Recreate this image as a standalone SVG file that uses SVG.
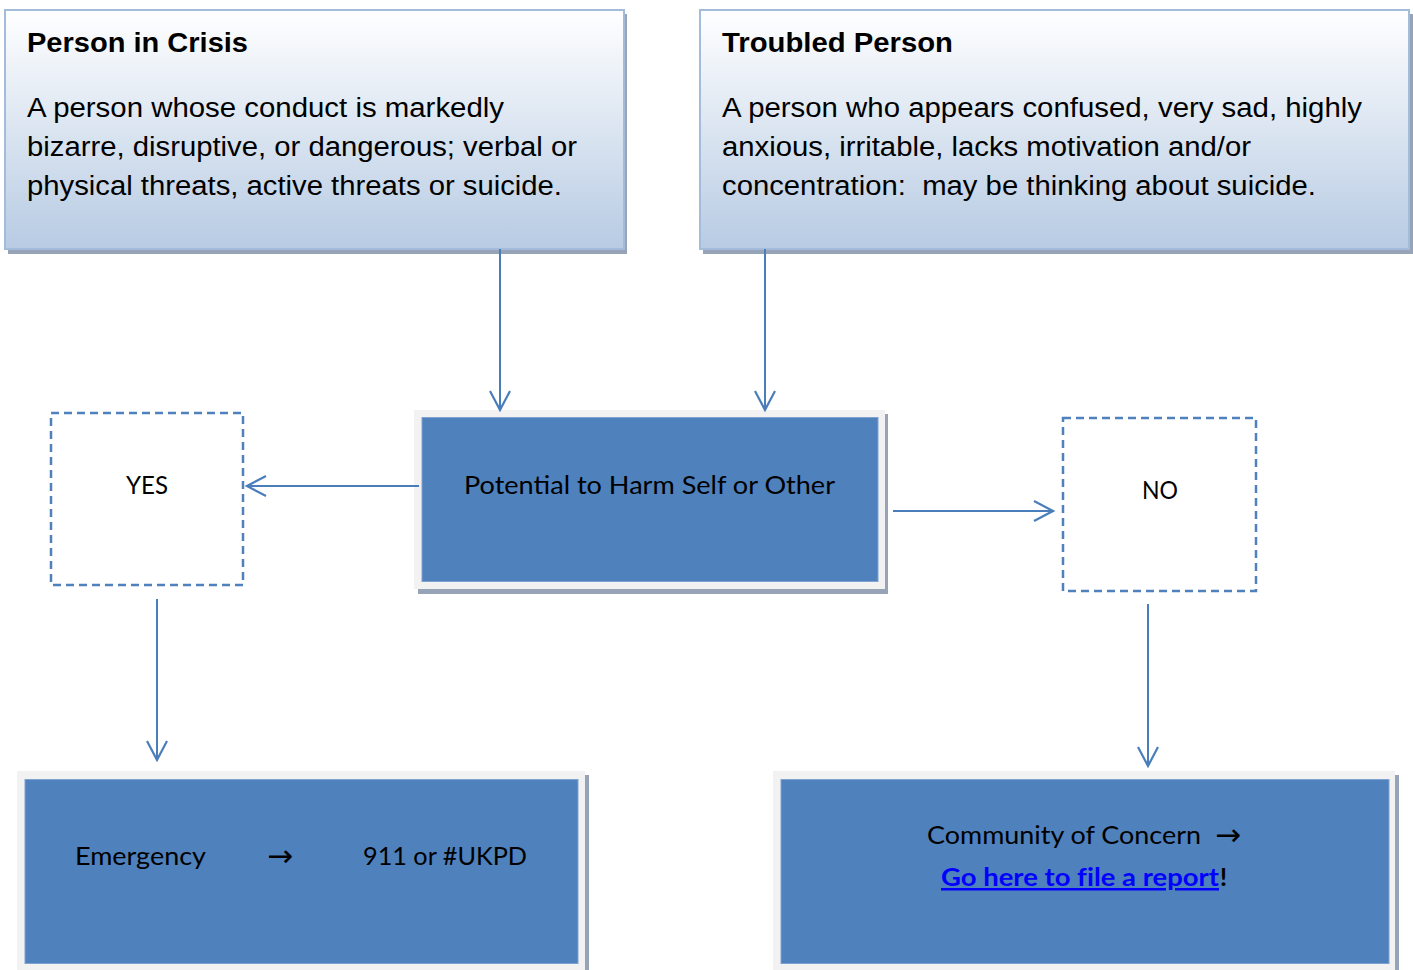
<svg xmlns="http://www.w3.org/2000/svg" width="1413" height="970" viewBox="0 0 1413 970">
<style>
.title{font-family:"Liberation Sans",Arial,sans-serif;font-weight:bold;font-size:27px;fill:#000}
.body{font-family:"Liberation Sans",Arial,sans-serif;font-size:27px;fill:#000}
.cal{font-family:Lato,"Open Sans",sans-serif;font-size:25px;fill:#000}
.arr{font-family:"Noto Sans","DejaVu Sans",sans-serif;font-size:30px;fill:#000}
.link{font-family:Lato,"Open Sans",sans-serif;font-size:25px;font-weight:bold;fill:#0000ff;text-decoration:underline;font-variant-ligatures:none;font-feature-settings:"liga" 0}
.excl{font-family:Lato,"Open Sans",sans-serif;font-size:25px;font-weight:bold;fill:#000}
.shadow{fill:#97a3b6}
.topbox{fill:url(#grad);stroke:#a3bcdc;stroke-width:2}
.frame{fill:#f2f2f2}
.blue{fill:#4f81bd;stroke:#7fa2d0;stroke-width:1}
.dash{fill:#fff;stroke:#4f81bd;stroke-width:2.5;stroke-dasharray:8 5}
.conn{stroke:#4a7ebb;stroke-width:2;fill:none;marker-end:url(#open)}
</style>
<defs>
<linearGradient id="grad" x1="0" y1="0" x2="0" y2="1">
<stop offset="0" stop-color="#ffffff"/>
<stop offset="1" stop-color="#b7cbe3"/>
</linearGradient>
<marker id="open" markerUnits="userSpaceOnUse" viewBox="-21 -11 23 22" refX="0" refY="0" markerWidth="23" markerHeight="22" orient="auto">
<path d="M -19 -10 L 0 0 L -19 10" fill="none" stroke="#4a7ebb" stroke-width="2.2"/>
</marker>
</defs>
<rect width="1413" height="970" fill="#fff"/>

<g id="crisis">
<rect class="shadow" x="8" y="14" width="619" height="240"/>
<rect class="topbox" x="5" y="10" width="619" height="239"/>
<text class="title" x="27" y="52" textLength="221" lengthAdjust="spacingAndGlyphs">Person in Crisis</text>
<text class="body" x="27" y="117" textLength="477" lengthAdjust="spacingAndGlyphs">A person whose conduct is markedly</text>
<text class="body" x="27" y="156" textLength="550" lengthAdjust="spacingAndGlyphs">bizarre, disruptive, or dangerous; verbal or</text>
<text class="body" x="27" y="195" textLength="535" lengthAdjust="spacingAndGlyphs">physical threats, active threats or suicide.</text>
</g>

<g id="troubled">
<rect class="shadow" x="703" y="14" width="710" height="240"/>
<rect class="topbox" x="700" y="10" width="709" height="239"/>
<text class="title" x="722" y="52" textLength="231" lengthAdjust="spacingAndGlyphs">Troubled Person</text>
<text class="body" x="722" y="117" textLength="640" lengthAdjust="spacingAndGlyphs">A person who appears confused, very sad, highly</text>
<text class="body" x="722" y="156" textLength="529" lengthAdjust="spacingAndGlyphs">anxious, irritable, lacks motivation and/or</text>
<text class="body" x="722" y="195" textLength="594" lengthAdjust="spacingAndGlyphs" xml:space="preserve">concentration:  may be thinking about suicide.</text>
</g>

<g id="potential">
<rect class="shadow" x="418" y="414" width="470" height="180"/>
<rect class="frame" x="414" y="410" width="471" height="179"/>
<rect class="blue" x="422" y="417.5" width="456" height="164"/>
<text class="cal" x="464" y="494" textLength="371" lengthAdjust="spacingAndGlyphs">Potential to Harm Self or Other</text>
</g>

<g id="yes">
<rect class="dash" x="51" y="413" width="192" height="172"/>
<text class="cal" x="126" y="494" textLength="42" lengthAdjust="spacingAndGlyphs">YES</text>
</g>

<g id="no">
<rect class="dash" x="1063" y="418" width="193" height="173"/>
<text class="cal" x="1142" y="499" textLength="36" lengthAdjust="spacingAndGlyphs">NO</text>
</g>

<g id="emergency">
<rect class="shadow" x="21" y="775" width="568" height="200"/>
<rect class="frame" x="17" y="771" width="568" height="200"/>
<rect class="blue" x="25" y="779.5" width="553" height="184"/>
<text class="cal" x="75" y="865" textLength="131" lengthAdjust="spacingAndGlyphs">Emergency</text>
<text class="arr" x="267" y="866" textLength="26" lengthAdjust="spacingAndGlyphs">→</text>
<text class="cal" x="363" y="865" textLength="164" lengthAdjust="spacingAndGlyphs">911 or #UKPD</text>
</g>

<g id="community">
<rect class="shadow" x="777" y="775" width="622" height="200"/>
<rect class="frame" x="773" y="771" width="622" height="200"/>
<rect class="blue" x="781" y="779.5" width="608" height="184"/>
<text class="cal" x="927" y="844" textLength="274" lengthAdjust="spacingAndGlyphs">Community of Concern</text>
<text class="arr" x="1215" y="845" textLength="26" lengthAdjust="spacingAndGlyphs">→</text>
<text class="link" x="941" y="886" textLength="278" lengthAdjust="spacingAndGlyphs">Go here to f&#x200C;ile a report</text>
<text class="excl" x="1220" y="886">!</text>
</g>

<g id="connectors">
<line class="conn" x1="500" y1="249" x2="500" y2="410"/>
<line class="conn" x1="765" y1="249" x2="765" y2="410"/>
<line class="conn" x1="419" y1="486" x2="247" y2="486"/>
<line class="conn" x1="893" y1="511" x2="1053" y2="511"/>
<line class="conn" x1="157" y1="599" x2="157" y2="760"/>
<line class="conn" x1="1148" y1="604" x2="1148" y2="766"/>
</g>
</svg>
